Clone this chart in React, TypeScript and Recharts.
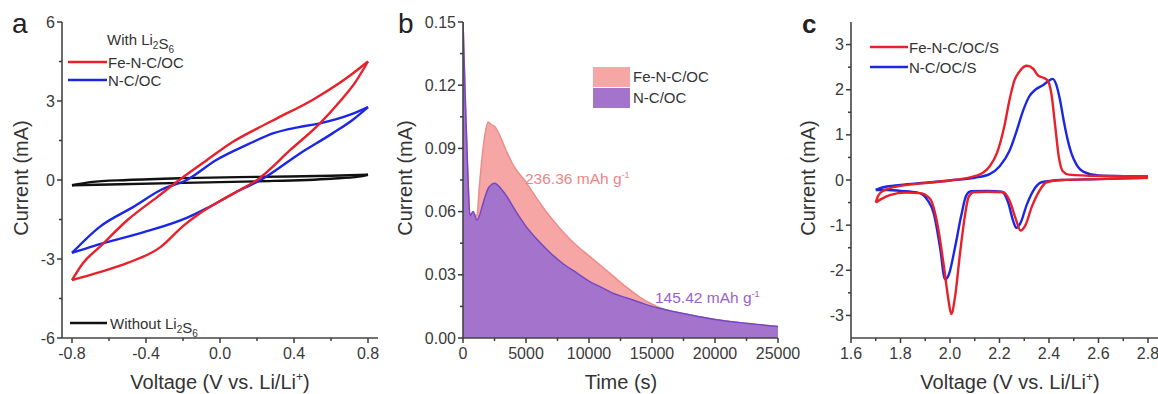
import { ComposedChart, AreaChart, Area, Line, XAxis, YAxis } from 'recharts';

const FONT = '"Liberation Sans", Arial, sans-serif';
const INK = '#3a3a3a';
const RED = '#e8202a';
const BLUE = '#1c27e4';

// panel a: CV of symmetric cells, [voltage V, current mA], each branch sorted by voltage
const aFeUpper = [[-0.8, -3.8], [-0.74, -3.15], [-0.65, -2.54], [-0.5, -1.52], [-0.34, -0.65], [-0.22, 0], [-0.07, 0.76], [0.07, 1.45], [0.2, 1.95], [0.31, 2.35], [0.5, 3.04], [0.69, 3.9], [0.8, 4.5]];
const aFeLower = [[-0.8, -3.8], [-0.65, -3.5], [-0.5, -3.15], [-0.32, -2.54], [-0.2, -1.75], [-0.11, -1.27], [0.0, -0.8], [0.108, -0.38], [0.2, 0], [0.38, 1.14], [0.54, 2.15], [0.65, 3.0], [0.73, 3.7], [0.8, 4.5]];
const aNcUpper = [[-0.8, -2.77], [-0.65, -1.78], [-0.47, -1.03], [-0.32, -0.38], [-0.18, 0], [-0.02, 0.76], [0.15, 1.35], [0.29, 1.78], [0.42, 2.0], [0.54, 2.15], [0.7, 2.47], [0.8, 2.77]];
const aNcLower = [[-0.8, -2.77], [-0.68, -2.5], [-0.42, -2.0], [-0.18, -1.44], [-0.07, -1.07], [0.108, -0.38], [0.22, 0], [0.43, 1.0], [0.61, 1.78], [0.72, 2.3], [0.8, 2.77]];
const aBareUpper = [[-0.8, -0.2], [-0.7, -0.08], [-0.5, 0.0], [-0.2, 0.07], [0.2, 0.12], [0.6, 0.16], [0.8, 0.2]];
const aBareLower = [[-0.8, -0.2], [-0.6, -0.17], [-0.2, -0.11], [0.2, -0.05], [0.6, 0.05], [0.75, 0.13], [0.8, 0.2]];

const aXTicks = [-0.8, -0.6, -0.4, -0.2, 0, 0.2, 0.4, 0.6, 0.8];
const aXMajor = [-0.8, -0.4, 0, 0.4, 0.8];
const aYTicks = [-6, -4.5, -3, -1.5, 0, 1.5, 3, 4.5, 6];
const aYMajor = [-6, -3, 0, 3, 6];

// panel b: potentiostatic Li2S deposition
const bTime = [0, 200, 400, 550, 800, 1100, 1300, 1500, 1750, 2000, 2300, 2500, 3000, 3500, 4000, 5000, 6000, 7000, 8000, 9000, 10000, 11000, 12000, 13000, 14000, 15000, 16000, 18000, 20000, 22000, 25000];
const bFe = [0.15, 0.11, 0.075, 0.058, 0.059, 0.058, 0.072, 0.085, 0.097, 0.1025, 0.101, 0.1005, 0.095, 0.088, 0.082, 0.074, 0.065, 0.057, 0.05, 0.044, 0.039, 0.034, 0.029, 0.024, 0.0195, 0.016, 0.0135, 0.011, 0.0088, 0.0073, 0.0055];
const bNc = [0.15, 0.11, 0.075, 0.058, 0.06, 0.056, 0.058, 0.062, 0.067, 0.071, 0.073, 0.0735, 0.071, 0.067, 0.062, 0.053, 0.046, 0.04, 0.035, 0.031, 0.027, 0.024, 0.021, 0.019, 0.017, 0.015, 0.0135, 0.011, 0.0088, 0.0073, 0.0055];

const bXTicks = [0, 2500, 5000, 7500, 10000, 12500, 15000, 17500, 20000, 22500, 25000];
const bXMajor = [0, 5000, 10000, 15000, 20000, 25000];
const bYTicks = [0, 0.015, 0.03, 0.045, 0.06, 0.075, 0.09, 0.105, 0.12, 0.135, 0.15];
const bYMajor = [0, 0.03, 0.06, 0.09, 0.12, 0.15];

// panel c: CV of Li-S cells
const cFeAnodic = [[1.7, -0.5], [1.71, -0.35], [1.73, -0.24], [1.8, -0.13], [1.9, -0.07], [2.0, -0.01], [2.08, 0.06], [2.13, 0.15], [2.16, 0.3], [2.19, 0.6], [2.22, 1.2], [2.24, 1.76], [2.26, 2.2], [2.283, 2.42], [2.31, 2.53], [2.335, 2.47], [2.355, 2.32], [2.375, 2.27], [2.395, 2.2], [2.41, 1.9], [2.425, 1.2], [2.44, 0.5], [2.455, 0.2], [2.48, 0.12], [2.6, 0.09], [2.8, 0.08]];
const cFeCathodic = [[1.7, -0.5], [1.72, -0.43], [1.76, -0.33], [1.82, -0.28], [1.88, -0.29], [1.92, -0.42], [1.95, -1.0], [1.975, -1.9], [1.995, -2.7], [2.005, -2.97], [2.02, -2.6], [2.04, -1.65], [2.06, -0.8], [2.075, -0.38], [2.095, -0.27], [2.15, -0.26], [2.215, -0.27], [2.24, -0.45], [2.265, -0.85], [2.285, -1.12], [2.305, -1.0], [2.33, -0.6], [2.36, -0.25], [2.39, -0.05], [2.45, 0.0], [2.6, 0.02], [2.8, 0.05]];
const cNcAnodic = [[1.7, -0.22], [1.73, -0.16], [1.8, -0.11], [1.9, -0.06], [2.0, -0.01], [2.1, 0.05], [2.16, 0.13], [2.2, 0.3], [2.24, 0.64], [2.27, 1.1], [2.295, 1.53], [2.32, 1.85], [2.345, 2.0], [2.375, 2.1], [2.4, 2.2], [2.415, 2.24], [2.43, 2.1], [2.445, 1.76], [2.46, 1.3], [2.475, 0.9], [2.49, 0.6], [2.51, 0.35], [2.54, 0.18], [2.6, 0.1], [2.8, 0.08]];
const cNcCathodic = [[1.7, -0.22], [1.75, -0.22], [1.8, -0.24], [1.87, -0.28], [1.91, -0.45], [1.935, -0.75], [1.96, -1.5], [1.98, -2.2], [1.995, -2.1], [2.02, -1.5], [2.045, -0.8], [2.065, -0.35], [2.085, -0.25], [2.15, -0.24], [2.21, -0.26], [2.235, -0.5], [2.255, -0.9], [2.268, -1.06], [2.285, -0.95], [2.31, -0.55], [2.335, -0.25], [2.37, -0.05], [2.45, 0.0], [2.6, 0.02], [2.8, 0.05]];

const cXTicks = [1.6, 1.7, 1.8, 1.9, 2.0, 2.1, 2.2, 2.3, 2.4, 2.5, 2.6, 2.7, 2.8];
const cXMajor = [1.6, 1.8, 2.0, 2.2, 2.4, 2.6, 2.8];
const cYTicks = [-3, -2.5, -2, -1.5, -1, -0.5, 0, 0.5, 1, 1.5, 2, 2.5, 3];
const cYMajor = [-3, -2, -1, 0, 1, 2, 3];

const toPoints = (arr: number[][]) => arr.map(([v, i]) => ({ v, i }));
const isMajor = (majors: number[], v: number) => majors.some((m) => Math.abs(m - v) < 1e-9);

const bottomTick = (majors: number[], fmt: (v: number) => string) => (props: any) => {
  const { x, y, payload } = props;
  const major = isMajor(majors, payload.value);
  return (
    <g>
      <line x1={x} x2={x} y1={y} y2={y + (major ? 5 : 3)} stroke={INK} strokeWidth={1.5} />
      {major && (
        <text x={x} y={y + 21} textAnchor="middle" fontSize={16} fill={INK} fontFamily={FONT}>
          {fmt(payload.value)}
        </text>
      )}
    </g>
  );
};

const leftTick = (majors: number[], fmt: (v: number) => string) => (props: any) => {
  const { x, y, payload } = props;
  const major = isMajor(majors, payload.value);
  return (
    <g>
      <line x1={x - (major ? 5 : 3)} x2={x} y1={y} y2={y} stroke={INK} strokeWidth={1.5} />
      {major && (
        <text x={x - 7} y={y + 5.5} textAnchor="end" fontSize={16} fill={INK} fontFamily={FONT}>
          {fmt(payload.value)}
        </text>
      )}
    </g>
  );
};

const axisLine = { stroke: '#444', strokeWidth: 1.6 };

// box frame: bottom/left axes carry the ticks, top/right are bare
const frame = (xDomain: number[], yDomain: number[]) => [
  <XAxis key="top" xAxisId="top" orientation="top" type="number" domain={xDomain} tick={false} tickLine={false} height={0} axisLine={axisLine} allowDataOverflow />,
  <YAxis key="right" yAxisId="right" orientation="right" type="number" domain={yDomain} tick={false} tickLine={false} width={0} axisLine={axisLine} allowDataOverflow />,
];

const cvLine = (data: number[][], color: string, key: string) => (
  <Line key={key} data={toPoints(data)} dataKey="i" type="monotone" stroke={color} strokeWidth={2.4} dot={false} isAnimationActive={false} />
);

const sub = (s: string) => (
  <>
    <tspan dy={4} fontSize={10}>{s}</tspan>
    <tspan dy={-4}></tspan>
  </>
);

export default function App() {
  const bData = bTime.map((t, k) => ({ t, fe: bFe[k], nc: bNc[k] }));
  const aXDom = [-0.854, 0.854];
  const aYDom = [-6, 6];
  const bXDom = [0, 25000];
  const bYDom = [0, 0.15];
  const cXDom = [1.6, 2.8485];
  const cYDom = [-3.5, 3.5];

  return (
    <div style={{ position: 'absolute', left: 0, top: 0, width: 1158, height: 394, overflow: 'hidden', background: '#fff', fontFamily: FONT }}>
      <div style={{ position: 'absolute', left: 0, top: 0 }}>
        <ComposedChart width={390} height={394} margin={{ top: 22, right: 12, bottom: 26, left: 0 }}>
          <XAxis dataKey="v" type="number" domain={aXDom} ticks={aXTicks} interval={0} tickSize={0} tickMargin={0} tickLine={false} tick={bottomTick(aXMajor, (v) => v.toFixed(1))} axisLine={axisLine} height={30} allowDataOverflow />
          <YAxis type="number" domain={aYDom} ticks={aYTicks} interval={0} tickSize={0} tickMargin={0} tickLine={false} tick={leftTick(aYMajor, (v) => String(v))} axisLine={axisLine} width={62} allowDataOverflow />
          {frame(aXDom, aYDom)}
          {cvLine(aBareUpper, '#111', 'bu')}
          {cvLine(aBareLower, '#111', 'bl')}
          {cvLine(aNcUpper, BLUE, 'nu')}
          {cvLine(aNcLower, BLUE, 'nl')}
          {cvLine(aFeUpper, RED, 'fu')}
          {cvLine(aFeLower, RED, 'fl')}
        </ComposedChart>
      </div>

      <div style={{ position: 'absolute', left: 390, top: 0 }}>
        <AreaChart width={420} height={394} data={bData} margin={{ top: 22, right: 32, bottom: 26, left: 0 }}>
          <XAxis dataKey="t" type="number" domain={bXDom} ticks={bXTicks} interval={0} tickSize={0} tickMargin={0} tickLine={false} tick={bottomTick(bXMajor, (v) => String(v))} axisLine={axisLine} height={30} allowDataOverflow />
          <YAxis type="number" domain={bYDom} ticks={bYTicks} interval={0} tickSize={0} tickMargin={0} tickLine={false} tick={leftTick(bYMajor, (v) => v.toFixed(2))} axisLine={axisLine} width={73} allowDataOverflow />
          {frame(bXDom, bYDom)}
          <Area dataKey="fe" type="monotone" fill="#f7a6a6" fillOpacity={1} stroke="#ec8c8c" strokeWidth={1.5} isAnimationActive={false} />
          <Area dataKey="nc" type="monotone" fill="#a474cc" fillOpacity={1} stroke="#7448c2" strokeWidth={1.5} isAnimationActive={false} />
        </AreaChart>
      </div>

      <div style={{ position: 'absolute', left: 790, top: 0 }}>
        <ComposedChart width={370} height={394} margin={{ top: 22, right: 0, bottom: 26, left: 0 }}>
          <XAxis dataKey="v" type="number" domain={cXDom} ticks={cXTicks} interval={0} tickSize={0} tickMargin={0} tickLine={false} tick={bottomTick(cXMajor, (v) => v.toFixed(1))} axisLine={axisLine} height={30} allowDataOverflow />
          <YAxis type="number" domain={cYDom} ticks={cYTicks} interval={0} tickSize={0} tickMargin={0} tickLine={false} tick={leftTick(cYMajor, (v) => String(v))} axisLine={axisLine} width={61} allowDataOverflow />
          {frame(cXDom, cYDom)}
          {cvLine(cNcAnodic, BLUE, 'na')}
          {cvLine(cNcCathodic, BLUE, 'nc')}
          {cvLine(cFeAnodic, RED, 'fa')}
          {cvLine(cFeCathodic, RED, 'fc')}
        </ComposedChart>
      </div>

      <svg width={1158} height={394} style={{ position: 'absolute', left: 0, top: 0, pointerEvents: 'none' }} fontFamily={FONT}>
        {/* panel letters */}
        <text x={12} y={33} fontSize={28} fill="#222">a</text>
        <text x={398} y={33} fontSize={28} fill="#222">b</text>
        <text x={802} y={33} fontSize={26} fill="#222" fontWeight="bold">c</text>

        {/* axis titles */}
        <g fontSize={20} fill="#333" textAnchor="middle">
          <text transform="translate(28,178) rotate(-90)">Current (mA)</text>
          <text transform="translate(412,178) rotate(-90)">Current (mA)</text>
          <text transform="translate(815,178) rotate(-90)">Current (mA)</text>
          <text x={220} y={389}>Voltage (V vs. Li/Li<tspan dy={-8} fontSize={12}>+</tspan><tspan dy={8}>)</tspan></text>
          <text x={621} y={389}>Time (s)</text>
          <text x={1010} y={389}>Voltage (V vs. Li/Li<tspan dy={-8} fontSize={12}>+</tspan><tspan dy={8}>)</tspan></text>
        </g>

        {/* legend a */}
        <g fontSize={15} fill="#333">
          <text x={107} y={45}>With Li{sub('2')}S{sub('6')}</text>
          <line x1={68} x2={107} y1={62} y2={62} stroke={RED} strokeWidth={2.4} />
          <text x={108} y={67.5}>Fe-N-C/OC</text>
          <line x1={68} x2={107} y1={80} y2={80} stroke={BLUE} strokeWidth={2.4} />
          <text x={108} y={85.5}>N-C/OC</text>
          <line x1={70} x2={107} y1={323} y2={323} stroke="#111" strokeWidth={2.4} />
          <text x={110} y={328.5}>Without Li{sub('2')}S{sub('6')}</text>
        </g>

        {/* legend b */}
        <rect x={593} y={67} width={37} height={20} fill="#f7a6a6" />
        <rect x={593} y={88} width={37} height={20} fill="#a474cc" />
        <g fontSize={15} fill="#333">
          <text x={633} y={82}>Fe-N-C/OC</text>
          <text x={633} y={103}>N-C/OC</text>
        </g>
        <text x={525} y={184} fontSize={15.5} fill="#ef8585">236.36 mAh g<tspan dy={-6} fontSize={9}>-1</tspan></text>
        <text x={655} y={303} fontSize={15.5} fill="#9a62c8">145.42 mAh g<tspan dy={-6} fontSize={9}>-1</tspan></text>

        {/* legend c */}
        <g fontSize={15} fill="#333">
          <line x1={870} x2={908} y1={47} y2={47} stroke={RED} strokeWidth={2.4} />
          <text x={909} y={52.5}>Fe-N-C/OC/S</text>
          <line x1={870} x2={908} y1={67} y2={67} stroke={BLUE} strokeWidth={2.4} />
          <text x={909} y={72.5}>N-C/OC/S</text>
        </g>
      </svg>
    </div>
  );
}
